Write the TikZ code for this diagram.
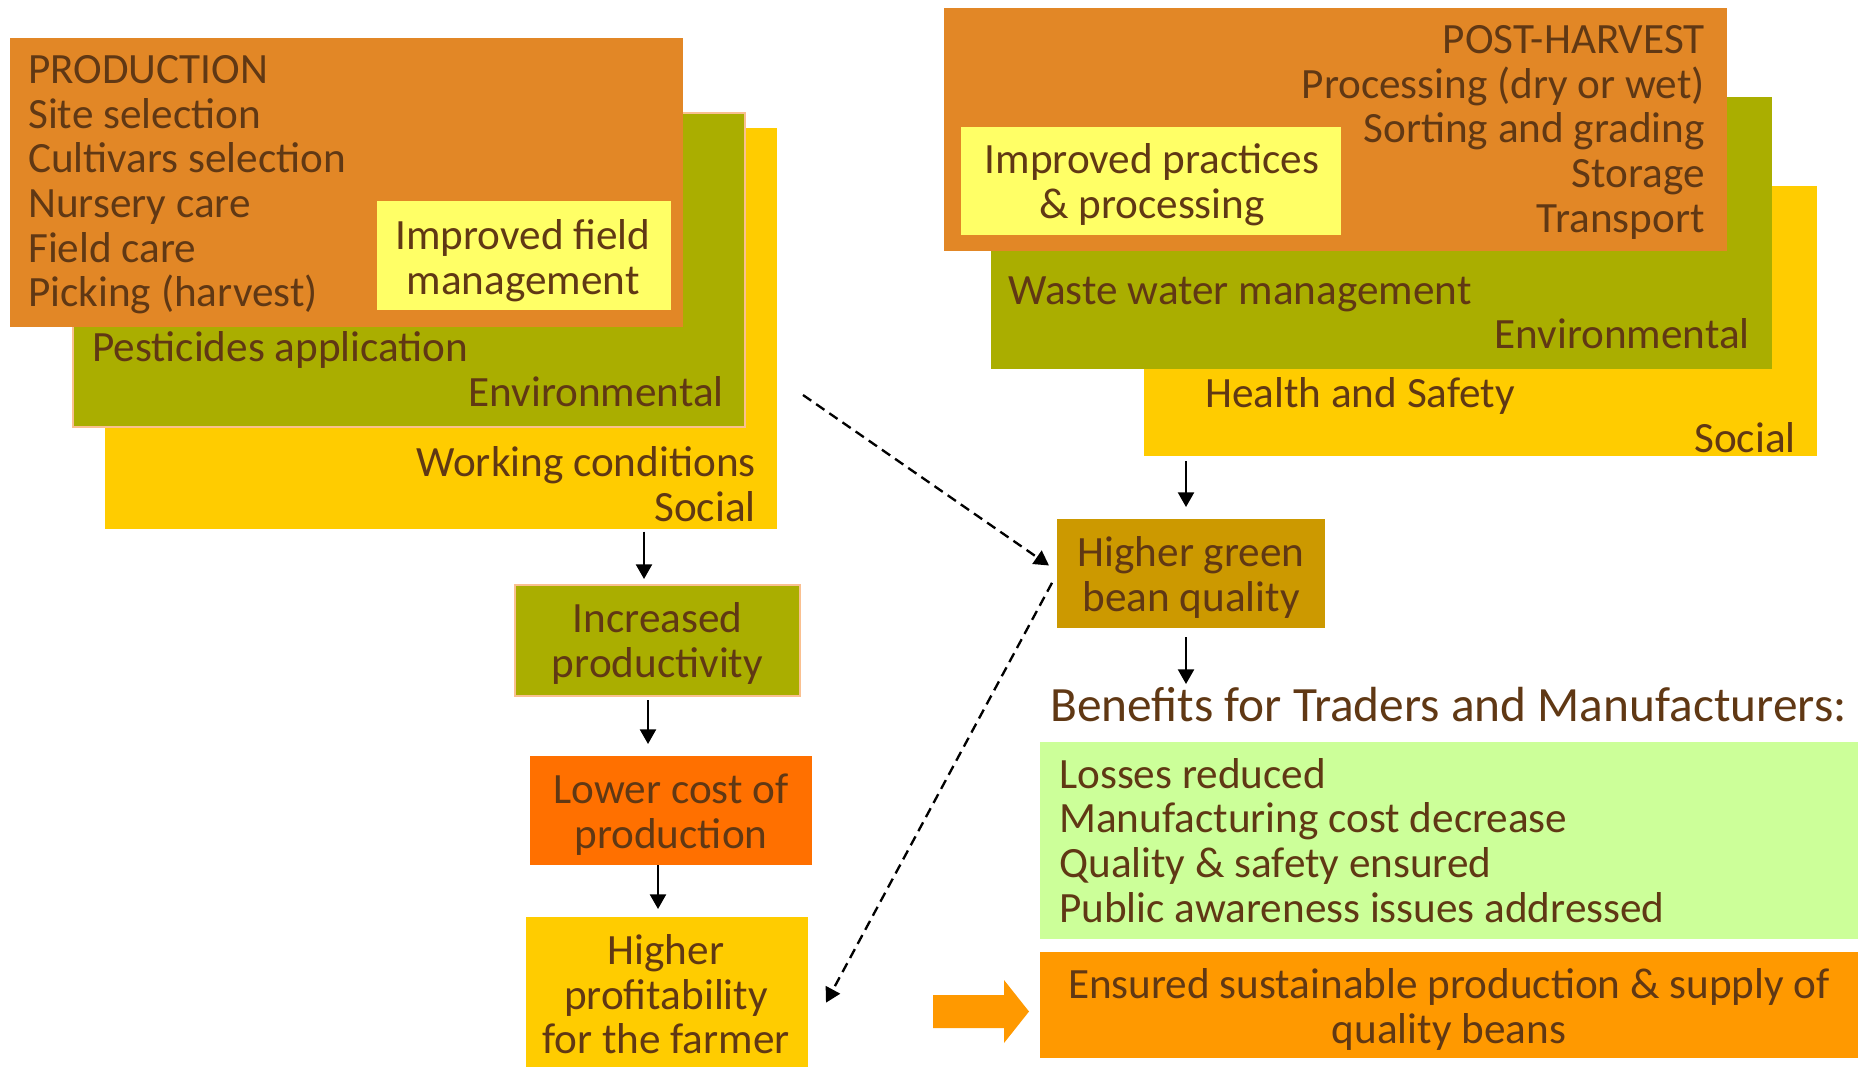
\documentclass[tikz,border=0pt]{standalone}
\usepackage{fontspec}
\setmainfont{Carlito}
\usetikzlibrary{fit,arrows.meta,calc}
\definecolor{txtbrown}{RGB}{96,56,20}
\definecolor{prodorange}{RGB}{226,135,38}
\definecolor{olive}{RGB}{170,174,0}
\definecolor{gold}{RGB}{255,204,0}
\definecolor{lightyel}{RGB}{255,255,102}
\definecolor{redorange}{RGB}{255,112,0}
\definecolor{darkgold}{RGB}{204,153,0}
\definecolor{lightgreen}{RGB}{204,255,153}
\definecolor{brightorange}{RGB}{255,153,0}
\definecolor{peach}{RGB}{250,192,144}
\newcommand{\fs}{\fontsize{32.4}{33.5}\selectfont}
\newcommand{\fsbig}{\fontsize{37}{40}\selectfont}
\begin{document}
\begin{tikzpicture}[x=0.75pt,y=-0.75pt,
  box/.style={inner sep=0pt,outer sep=0pt,draw=none},
  T/.style={font=\fs,text=txtbrown,inner sep=0pt,
    execute at begin node=\strut,execute at end node=\strut},
  arr/.style={line width=1.75pt,-{Triangle[length=11pt,width=12pt]}},
  dsh/.style={line width=1.75pt,dash pattern=on 7.5pt off 4.5pt,-{Triangle[length=11pt,width=12pt]}}]
\useasboundingbox (0,0) rectangle (1858,1067);
% ---- left stack
\node[box,fill=gold,fit={(105,128) (777,529)}] (lyellow) {};
\node[box,fill=olive,draw=peach,line width=1.5pt,fit={(73,113) (745,427)}] (lgreen) {};
\node[box,fill=prodorange,fit={(9.5,38) (682.5,327)}] (prod) {};
\node[box,fill=lightyel,fit={(377,201) (671,310)}] (ifm) {};
\node[T,align=left,anchor=west] (prodtxt) at (28,188) {PRODUCTION\\Site selection\\Cultivars selection\\Nursery care\\Field care\\Picking (harvest)};
\node[T,align=center] (ifmtxt) at (523,264) {Improved field\\management};
\node[T,anchor=west] (pest) at (92,353) {Pesticides application};
\node[T,anchor=east] (lenv) at (724,398) {Environmental};
\node[T,anchor=east] (work) at (756,468) {Working conditions};
\node[T,anchor=east] (lsoc) at (756,513) {Social};
% ---- right stack
\node[box,fill=gold,fit={(1144,186) (1817,456)}] (ryellow) {};
\node[box,fill=olive,fit={(991,97) (1772,369)}] (rgreen) {};
\node[box,fill=prodorange,fit={(944,8) (1727,251)}] (post) {};
\node[box,fill=lightyel,fit={(961,127) (1341,235)}] (ipp) {};
\node[T,align=right,anchor=east] (posttxt) at (1705,135.5) {POST-HARVEST\\Processing (dry or wet)\\Sorting and grading\\Storage\\Transport};
\node[T,align=center] (ipptxt) at (1152,188) {Improved practices\\\& processing};
\node[T,anchor=west] (waste) at (1008,296) {Waste water management};
\node[T,anchor=east] (renv) at (1750,340) {Environmental};
\node[T,anchor=west] (health) at (1205,399) {Health and Safety};
\node[T,anchor=east] (rsoc) at (1796,444) {Social};
% ---- left chain
\node[box,fill=olive,draw=peach,line width=1.5pt,fit={(515,585) (800,696)}] (incr) {};
\node[T,align=center] (incrtxt) at (657.5,646.5) {Increased\\productivity};
\node[box,fill=redorange,fit={(530,756) (812,865)}] (lower) {};
\node[T,align=center] (lowertxt) at (671,818) {Lower cost of\\production};
\node[box,fill=gold,fit={(526,917) (808,1067)}] (farmer) {};
\node[T,align=center] (farmertxt) at (666,1001) {Higher\\profitability\\for the farmer};
% ---- right chain
\node[box,fill=darkgold,fit={(1057,519) (1325,628)}] (gbq) {};
\node[T,align=center] (gbqtxt) at (1191,581) {Higher green\\bean quality};
\node[T,font=\fsbig,anchor=west] (benef) at (1050,711) {Benefits for Traders and Manufacturers:};
\node[box,fill=lightgreen,fit={(1040,742) (1858,939)}] (lgbox) {};
\node[T,align=left,anchor=west] (lgtxt) at (1059,847) {Losses reduced\\Manufacturing cost decrease\\Quality \& safety ensured\\Public awareness issues addressed};
\node[box,fill=brightorange,fit={(1040,952) (1858,1058)}] (ens) {};
\node[T,align=center] (enstxt) at (1449,1013) {Ensured sustainable production \& supply of\\quality beans};
% block arrow
\fill[brightorange] (933,995) -- (1004,995) -- (1004,980) -- (1029,1011.5) -- (1004,1043) -- (1004,1028) -- (933,1028) -- cycle;
% ---- arrows
\draw[arr] ([yshift=-2pt]lyellow.south -| 644,0) -- ([yshift=4.5pt]incr.north -| 644,0);
\draw[arr] ([yshift=-3pt]incr.south -| 648,0) -- ([yshift=9pt]lower.north -| 648,0);
\draw[arr] ([yshift=0pt]lower.south -| 658,0) -- ([yshift=6pt]farmer.north -| 658,0);
\draw[arr] ([yshift=-4pt]ryellow.south -| 1186,0) -- ([yshift=9pt]gbq.north -| 1186,0);
\draw[arr] ([yshift=-7pt]gbq.south -| 1186,0) -- ([yshift=-42pt]gbq.south -| 1186,0);
\coordinate (d1s) at (803,395);
\draw[dsh] (d1s) -- ([xshift=-6pt,yshift=6pt]gbq.west);
\draw[dsh] ([xshift=-3.75pt,yshift=-7pt]gbq.west) -- ([xshift=13.5pt,yshift=-8pt]farmer.east);
\end{tikzpicture}
\end{document}
